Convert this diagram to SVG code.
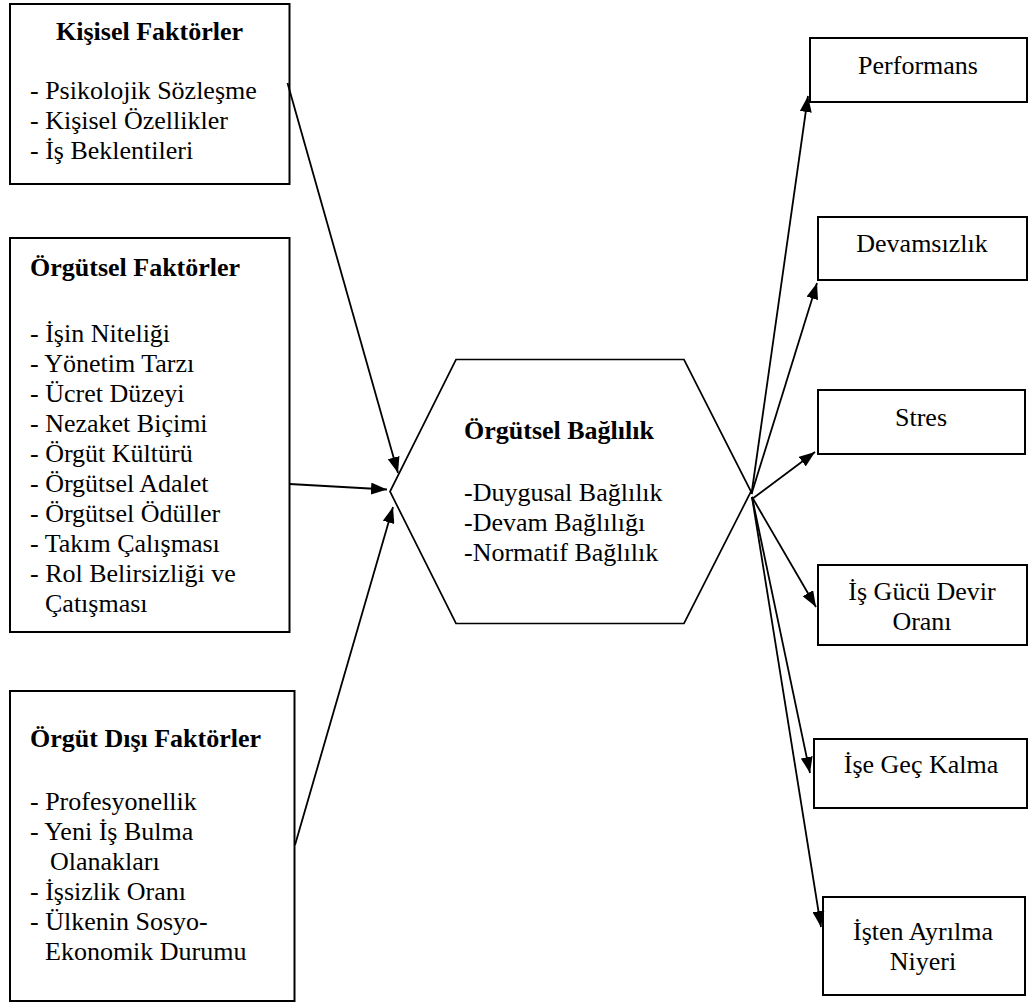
<svg xmlns="http://www.w3.org/2000/svg" width="1031" height="1003" viewBox="0 0 1031 1003">
  <style>
    .box { fill: none; stroke: #000; stroke-width: 2; }
    .hex { fill: none; stroke: #000; stroke-width: 1.7; }
    .b { font-weight: bold; }
    .c { text-anchor: middle; }
    .wire { fill: none; stroke: #000; stroke-width: 1.8; }
  </style>
  <defs>
    <marker id="arrow" viewBox="0 0 16 12" refX="16" refY="6" markerWidth="16" markerHeight="12" markerUnits="userSpaceOnUse" orient="auto">
      <path d="M0,0 L16,6 L0,12 z" fill="#000"/>
    </marker>
  </defs>
  <rect width="1031" height="1003" fill="#fff"/>

  <g font-size="26" fill="#000">
    <!-- left factor boxes -->
    <g id="kisisel-faktorler" font-family="'Liberation Serif'">
      <rect class="box" x="10" y="4" width="279.5" height="180"/>
      <text class="b c" x="149.5" y="40">Kişisel Faktörler</text>
      <text x="30" y="99">- Psikolojik Sözleşme</text>
      <text x="30" y="129">- Kişisel Özellikler</text>
      <text x="30" y="159">- İş Beklentileri</text>
    </g>

    <g id="orgutsel-faktorler" font-family="'Liberation Serif'">
      <rect class="box" x="10" y="238" width="279.5" height="394"/>
      <text class="b" x="30" y="276">Örgütsel Faktörler</text>
      <text x="30" y="342">- İşin Niteliği</text>
      <text x="30" y="372">- Yönetim Tarzı</text>
      <text x="30" y="402">- Ücret Düzeyi</text>
      <text x="30" y="432">- Nezaket Biçimi</text>
      <text x="30" y="462">- Örgüt Kültürü</text>
      <text x="30" y="492">- Örgütsel Adalet</text>
      <text x="30" y="522">- Örgütsel Ödüller</text>
      <text x="30" y="552">- Takım Çalışması</text>
      <text x="30" y="582">- Rol Belirsizliği ve</text>
      <text x="45" y="612">Çatışması</text>
    </g>

    <g id="orgut-disi-faktorler" font-family="'Liberation Serif'">
      <rect class="box" x="10" y="691" width="284.5" height="310"/>
      <text class="b" x="30" y="747">Örgüt Dışı Faktörler</text>
      <text x="30" y="810">- Profesyonellik</text>
      <text x="30" y="840">- Yeni İş Bulma</text>
      <text x="50" y="870">Olanakları</text>
      <text x="30" y="900">- İşsizlik Oranı</text>
      <text x="30" y="930">- Ülkenin Sosyo-</text>
      <text x="45" y="960">Ekonomik Durumu</text>
    </g>

    <!-- central hexagon -->
    <g id="orgutsel-baglilik" font-family="'Liberation Serif'">
      <polygon class="hex" points="456,359.5 684,359.5 751,491.5 684,623.5 456,623.5 390,491.5"/>
      <text class="b" x="464" y="439">Örgütsel Bağlılık</text>
      <text x="464" y="501">-Duygusal Bağlılık</text>
      <text x="464" y="531">-Devam Bağlılığı</text>
      <text x="464" y="561">-Normatif Bağlılık</text>
    </g>

    <!-- outcome boxes -->
    <g font-family="'Liberation Serif'">
      <g id="performans">
        <rect class="box" x="810" y="38" width="217" height="64"/>
        <text class="c" x="918" y="74">Performans</text>
      </g>
      <g id="devamsizlik">
        <rect class="box" x="818" y="217" width="209" height="63"/>
        <text class="c" x="922" y="252">Devamsızlık</text>
      </g>
      <g id="stres">
        <rect class="box" x="818" y="390" width="207" height="64"/>
        <text class="c" x="921" y="426">Stres</text>
      </g>
      <g id="is-gucu-devir-orani">
        <rect class="box" x="818" y="565" width="209" height="80"/>
        <text class="c" x="922" y="600">İş Gücü Devir</text>
        <text class="c" x="922" y="630">Oranı</text>
      </g>
      <g id="ise-gec-kalma">
        <rect class="box" x="814" y="739" width="213" height="69"/>
        <text class="c" x="921" y="773">İşe Geç Kalma</text>
      </g>
      <g id="isten-ayrilma-niyeri">
        <rect class="box" x="823" y="897" width="202" height="98"/>
        <text class="c" x="923" y="940">İşten Ayrılma</text>
        <text class="c" x="923" y="970">Niyeri</text>
      </g>
    </g>
  </g>

  <!-- connectors -->
  <g id="connectors">
    <line class="wire" x1="287.5" y1="83" x2="398" y2="473" marker-end="url(#arrow)"/>
    <line class="wire" x1="289.5" y1="484" x2="387" y2="489.5" marker-end="url(#arrow)"/>
    <line class="wire" x1="295" y1="845" x2="393" y2="507" marker-end="url(#arrow)"/>
    <line class="wire" x1="751.5" y1="494" x2="808" y2="96" marker-end="url(#arrow)"/>
    <line class="wire" x1="751.5" y1="494" x2="817" y2="283" marker-end="url(#arrow)"/>
    <line class="wire" x1="752" y1="499" x2="815" y2="452" marker-end="url(#arrow)"/>
    <line class="wire" x1="752" y1="497" x2="816" y2="607" marker-end="url(#arrow)"/>
    <line class="wire" x1="752" y1="497" x2="810" y2="773" marker-end="url(#arrow)"/>
    <line class="wire" x1="752" y1="497" x2="821" y2="927" marker-end="url(#arrow)"/>
  </g>
</svg>
